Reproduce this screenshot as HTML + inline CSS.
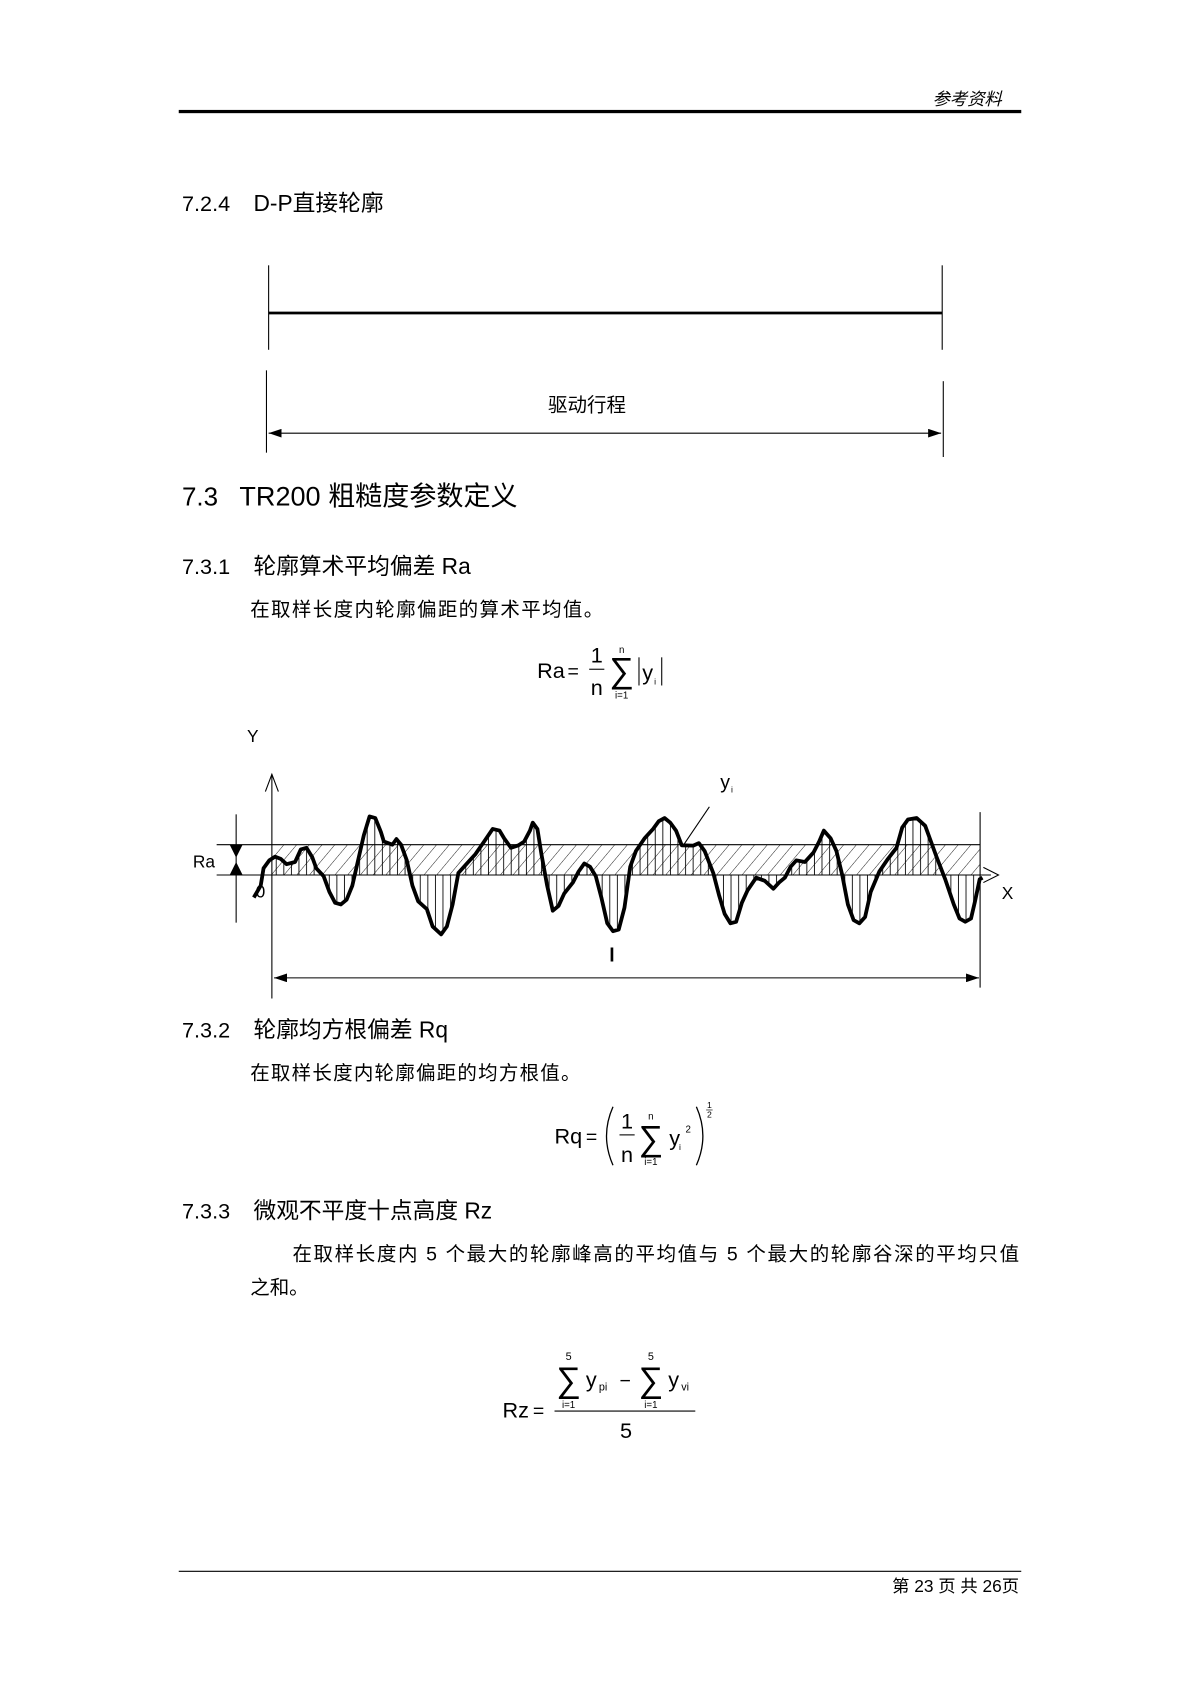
<!DOCTYPE html>
<html><head><meta charset="utf-8"><style>
html,body{margin:0;padding:0;background:#fff}
svg{display:block}
text{font-family:"Liberation Sans","Noto Sans CJK SC",sans-serif;fill:#000}
</style></head><body>
<svg width="1200" height="1698" viewBox="0 0 1108 1568" xmlns="http://www.w3.org/2000/svg">
<defs>
<pattern id="diag" width="9" height="9" patternUnits="userSpaceOnUse" patternTransform="rotate(40)">
<line x1="0" y1="0" x2="0" y2="9" stroke="#000" stroke-width="0.8"/></pattern>
<pattern id="vert" width="7" height="10" patternUnits="userSpaceOnUse">
<line x1="3" y1="0" x2="3" y2="10" stroke="#000" stroke-width="0.8"/></pattern>
<marker id="af" markerWidth="12" markerHeight="8" refX="12" refY="4" orient="auto" markerUnits="userSpaceOnUse">
<path d="M0,0 L12,4 L0,8 z" fill="#000"/></marker>
<marker id="ab" markerWidth="12" markerHeight="8" refX="0" refY="4" orient="auto" markerUnits="userSpaceOnUse">
<path d="M12,0 L0,4 L12,8 z" fill="#000"/></marker>
</defs>

<text x="925" y="97" font-size="16" font-style="italic" text-anchor="end">参考资料</text>
<rect x="165" y="101.5" width="778" height="3" fill="#000"/>

<text x="168" y="195" font-size="20">7.2.4</text>
<text x="234" y="195" font-size="21">D-P直接轮廓</text>

<g stroke="#000" fill="none">
<line x1="248" y1="245" x2="248" y2="323" stroke-width="1"/>
<line x1="870" y1="245" x2="870" y2="323" stroke-width="1"/>
<line x1="248" y1="289" x2="870" y2="289" stroke-width="2.5"/>
<line x1="246" y1="342" x2="246" y2="418" stroke-width="1"/>
<line x1="871" y1="352" x2="871" y2="422" stroke-width="1"/>
<line x1="248" y1="400" x2="869" y2="400" stroke-width="1" marker-start="url(#ab)" marker-end="url(#af)"/>
</g>
<text x="542" y="380" font-size="18" text-anchor="middle">驱动行程</text>

<text x="168" y="467" font-size="24">7.3</text>
<text x="221" y="467" font-size="25">TR200 粗糙度参数定义</text>
<text x="168" y="530" font-size="20">7.3.1</text>
<text x="234" y="530" font-size="21">轮廓算术平均偏差 Ra</text>
<text x="231" y="569" font-size="18" textLength="326">在取样长度内轮廓偏距的算术平均值。</text>

<text x="496" y="626" font-size="20">Ra</text>
<text x="524" y="626" font-size="18">=</text>
<text x="551" y="612" font-size="20" text-anchor="middle">1</text>
<line x1="544" y1="618" x2="558" y2="618" stroke="#000" stroke-width="1"/>
<text x="551" y="642" font-size="20" text-anchor="middle">n</text>
<text x="574" y="630" font-size="32" text-anchor="middle">∑</text>
<text x="574" y="603" font-size="9" text-anchor="middle">n</text>
<text x="574" y="645" font-size="9" text-anchor="middle">i=1</text>
<line x1="590" y1="607" x2="590" y2="633" stroke="#000"/>
<text x="593" y="628" font-size="20">y</text>
<text x="604" y="632" font-size="8">i</text>
<line x1="611" y1="607" x2="611" y2="633" stroke="#000"/>

<text x="228" y="685" font-size="16">Y</text>
<rect x="251" y="780" width="654" height="28" fill="url(#diag)"/>
<polygon fill="url(#vert)" stroke="none" points="251,808 253.9,791.1 259.2,793.1 264.5,798.0 272.4,796.0 277.7,784.4 283.0,782.9 288.3,791.6 292.0,801.8 298.8,809.1 304.1,823.6 309.4,833.7 314.7,835.2 320.0,830.8 325.3,817.8 330.6,794.5 335.9,771.3 341.2,753.9 346.5,755.4 351.7,768.4 354.4,777.1 362.3,780.0 366.0,774.8 370.3,780.0 375.6,794.5 380.8,817.8 386.1,832.3 394.1,839.5 399.4,855.5 407.3,862.8 412.6,855.5 417.9,835.2 423.2,806.2 431.1,797.4 439.0,788.7 447.0,777.1 454.9,765.5 461.2,767.0 465.5,774.2 471.8,782.9 478.7,780.6 484.0,777.1 489.3,767.0 491.9,759.7 496.2,765.5 499.9,788.7 505.2,817.8 510.4,841.0 515.7,836.6 521.0,825.0 529.0,814.9 534.3,804.7 539.5,797.4 544.8,800.4 550.1,809.1 555.4,829.4 560.7,852.6 566.0,859.9 571.3,858.4 576.6,838.1 581.9,800.4 587.2,785.8 595.1,774.2 603.0,765.5 608.3,758.3 613.6,755.4 618.9,759.7 624.2,767.0 629.5,780.6 640.1,780.9 645.3,778.6 650.6,785.8 658.6,806.2 663.9,826.5 669.1,843.9 674.4,852.6 679.7,851.2 685.0,833.7 690.3,822.1 698.2,810.5 706.2,813.4 714.1,820.7 719.4,814.9 724.7,810.5 730.0,800.4 735.3,794.5 743.2,796.0 751.1,787.3 756.4,777.1 760.7,767.0 767.0,774.2 772.3,785.8 777.6,807.6 782.9,835.2 788.2,849.7 793.5,852.6 798.8,846.8 804.0,823.6 812.0,804.7 819.9,793.1 827.8,782.9 833.1,764.1 838.4,756.8 846.4,755.4 854.3,762.6 859.6,777.1 864.9,791.6 872.8,812.0 880.7,835.2 886.0,848.2 891.3,851.2 896.6,848.2 900.3,832.3 904.6,812.0 905,808"/>
<g stroke="#000" fill="none" stroke-width="1">
<line x1="200" y1="780" x2="905" y2="780"/>
<line x1="200" y1="808" x2="915" y2="808"/>
<line x1="251" y1="715" x2="251" y2="922"/>
<polyline points="245,731 251,715 257,731"/>
<polyline points="908,801 922,808 908,815"/>
<line x1="905" y1="750" x2="905" y2="912"/>
<line x1="218" y1="752" x2="218" y2="852"/>
<line x1="655" y1="745" x2="630" y2="782"/>
<line x1="253" y1="903" x2="904" y2="903" marker-start="url(#ab)" marker-end="url(#af)"/>
</g>
<polyline fill="none" stroke="#000" stroke-width="3.5" stroke-linejoin="round" points="234.3,828.8 240.7,817.8 243.3,801.8 248.6,794.5 253.9,791.1 259.2,793.1 264.5,798.0 272.4,796.0 277.7,784.4 283.0,782.9 288.3,791.6 292.0,801.8 298.8,809.1 304.1,823.6 309.4,833.7 314.7,835.2 320.0,830.8 325.3,817.8 330.6,794.5 335.9,771.3 341.2,753.9 346.5,755.4 351.7,768.4 354.4,777.1 362.3,780.0 366.0,774.8 370.3,780.0 375.6,794.5 380.8,817.8 386.1,832.3 394.1,839.5 399.4,855.5 407.3,862.8 412.6,855.5 417.9,835.2 423.2,806.2 431.1,797.4 439.0,788.7 447.0,777.1 454.9,765.5 461.2,767.0 465.5,774.2 471.8,782.9 478.7,780.6 484.0,777.1 489.3,767.0 491.9,759.7 496.2,765.5 499.9,788.7 505.2,817.8 510.4,841.0 515.7,836.6 521.0,825.0 529.0,814.9 534.3,804.7 539.5,797.4 544.8,800.4 550.1,809.1 555.4,829.4 560.7,852.6 566.0,859.9 571.3,858.4 576.6,838.1 581.9,800.4 587.2,785.8 595.1,774.2 603.0,765.5 608.3,758.3 613.6,755.4 618.9,759.7 624.2,767.0 629.5,780.6 640.1,780.9 645.3,778.6 650.6,785.8 658.6,806.2 663.9,826.5 669.1,843.9 674.4,852.6 679.7,851.2 685.0,833.7 690.3,822.1 698.2,810.5 706.2,813.4 714.1,820.7 719.4,814.9 724.7,810.5 730.0,800.4 735.3,794.5 743.2,796.0 751.1,787.3 756.4,777.1 760.7,767.0 767.0,774.2 772.3,785.8 777.6,807.6 782.9,835.2 788.2,849.7 793.5,852.6 798.8,846.8 804.0,823.6 812.0,804.7 819.9,793.1 827.8,782.9 833.1,764.1 838.4,756.8 846.4,755.4 854.3,762.6 859.6,777.1 864.9,791.6 872.8,812.0 880.7,835.2 886.0,848.2 891.3,851.2 896.6,848.2 900.3,832.3 904.6,812.0 907.2,810.5"/>
<path d="M212,780 L224,780 L218,792 z M212,808 L224,808 L218,796 z" fill="#000"/>
<text x="178" y="801" font-size="16">Ra</text>
<text x="236" y="829" font-size="16">0</text>
<text x="925" y="830" font-size="16">X</text>
<text x="665" y="728" font-size="18">y</text>
<text x="675" y="732" font-size="8">i</text>
<text x="565" y="888" font-size="18" font-weight="bold" text-anchor="middle">l</text>

<text x="168" y="958" font-size="20">7.3.2</text>
<text x="234" y="958" font-size="21">轮廓均方根偏差 Rq</text>
<text x="231" y="997" font-size="18" textLength="305">在取样长度内轮廓偏距的均方根值。</text>

<text x="512" y="1056" font-size="20">Rq</text>
<text x="541" y="1056" font-size="18">=</text>
<path d="M566,1022 Q554,1049 566,1076" stroke="#000" fill="none" stroke-width="1.2"/>
<text x="579" y="1042" font-size="20" text-anchor="middle">1</text>
<line x1="572" y1="1048" x2="586" y2="1048" stroke="#000"/>
<text x="579" y="1073" font-size="20" text-anchor="middle">n</text>
<text x="601" y="1062" font-size="32" text-anchor="middle">∑</text>
<text x="601" y="1034" font-size="9" text-anchor="middle">n</text>
<text x="601" y="1076" font-size="9" text-anchor="middle">i=1</text>
<text x="618" y="1058" font-size="20">y</text>
<text x="627" y="1062" font-size="8">i</text>
<text x="633" y="1046" font-size="9">2</text>
<path d="M643,1022 Q655,1049 643,1076" stroke="#000" fill="none" stroke-width="1.2"/>
<text x="655" y="1023" font-size="8" text-anchor="middle">1</text>
<line x1="652" y1="1025" x2="658" y2="1025" stroke="#000" stroke-width="0.6"/>
<text x="655" y="1032" font-size="8" text-anchor="middle">2</text>

<text x="168" y="1125" font-size="20">7.3.3</text>
<text x="234" y="1125" font-size="21">微观不平度十点高度 Rz</text>
<text x="270" y="1164" font-size="18" textLength="671">在取样长度内 5 个最大的轮廓峰高的平均值与 5 个最大的轮廓谷深的平均只值</text>
<text x="231" y="1195" font-size="18">之和。</text>

<text x="464" y="1309" font-size="20">Rz</text>
<text x="492" y="1309" font-size="18">=</text>
<line x1="512" y1="1303" x2="642" y2="1303" stroke="#000"/>
<text x="525" y="1285" font-size="32" text-anchor="middle">∑</text>
<text x="525" y="1256" font-size="10" text-anchor="middle">5</text>
<text x="525" y="1300" font-size="9" text-anchor="middle">i=1</text>
<text x="541" y="1281" font-size="20">y</text>
<text x="553" y="1284" font-size="10">pi</text>
<text x="572" y="1281" font-size="18">−</text>
<text x="601" y="1285" font-size="32" text-anchor="middle">∑</text>
<text x="601" y="1256" font-size="10" text-anchor="middle">5</text>
<text x="601" y="1300" font-size="9" text-anchor="middle">i=1</text>
<text x="617" y="1281" font-size="20">y</text>
<text x="629" y="1284" font-size="10">vi</text>
<text x="578" y="1328" font-size="20" text-anchor="middle">5</text>

<line x1="165" y1="1451" x2="943" y2="1451" stroke="#000" stroke-width="1"/>
<text x="941" y="1470" font-size="16" text-anchor="end">第 23 页 共 26页</text>
</svg>
</body></html>
